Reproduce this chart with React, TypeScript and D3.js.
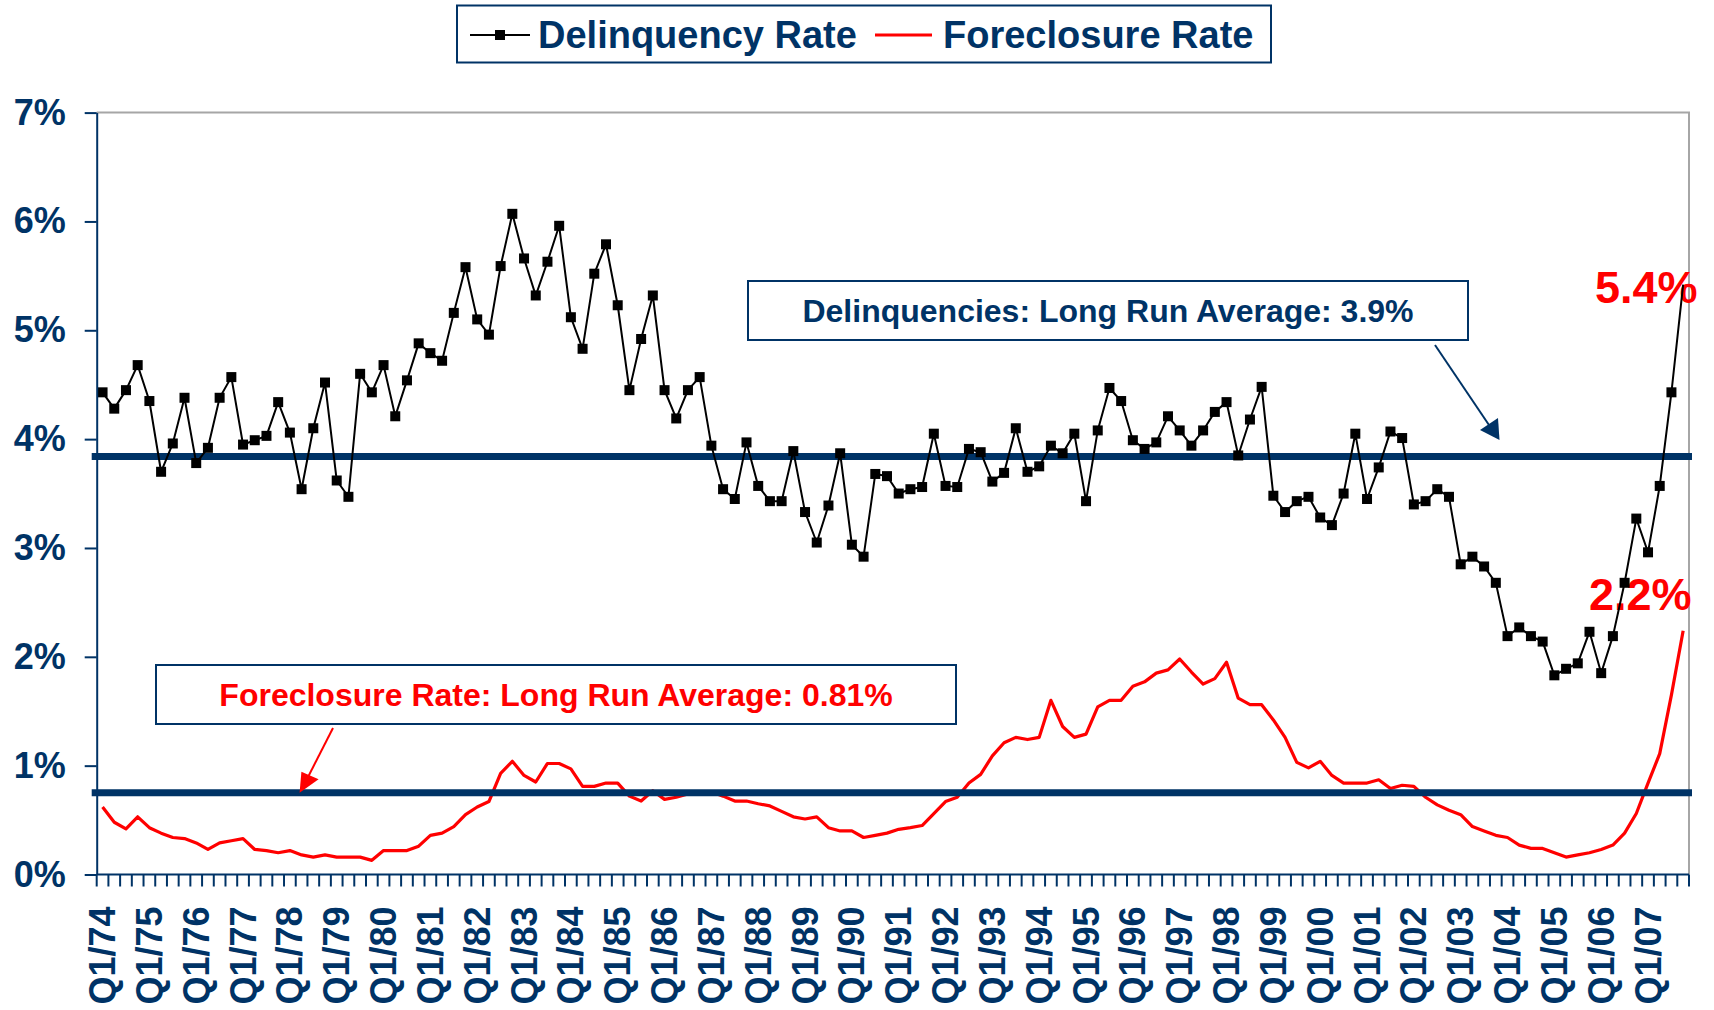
import React, { useEffect, useRef } from "react"
import * as d3 from "d3"

// quarterly series, Q1/74 .. Q4/07
const years = [
  "74", "75", "76", "77", "78", "79", "80", "81", "82", "83", "84", "85",
  "86", "87", "88", "89", "90", "91", "92", "93", "94", "95", "96", "97",
  "98", "99", "00", "01", "02", "03", "04", "05", "06", "07",
]
const quarterNames = ["Q1", "Q2", "Q3", "Q4"]
const quarters = years.flatMap((yr) => quarterNames.map((q) => `${q}/${yr}`))
const tickLabels = years.map((yr) => `Q1/${yr}`)
const yTicks = [0, 1, 2, 3, 4, 5, 6, 7]

const delinquency = [
  4.43, 4.28, 4.45, 4.68, 4.35, 3.7, 3.96, 4.38, 3.78, 3.92,
  4.38, 4.57, 3.95, 3.99, 4.03, 4.34, 4.06, 3.54, 4.1, 4.52,
  3.62, 3.47, 4.6, 4.43, 4.68, 4.21, 4.54, 4.88, 4.79, 4.72,
  5.16, 5.58, 5.1, 4.96, 5.59, 6.07, 5.66, 5.32, 5.63, 5.96,
  5.12, 4.83, 5.52, 5.79, 5.23, 4.45, 4.92, 5.32, 4.45, 4.19,
  4.45, 4.57, 3.94, 3.54, 3.45, 3.97, 3.57, 3.43, 3.43, 3.89,
  3.33, 3.05, 3.39, 3.87, 3.03, 2.92, 3.68, 3.66, 3.5, 3.54,
  3.56, 4.05, 3.57, 3.56, 3.91, 3.88, 3.61, 3.69, 4.1, 3.7,
  3.75, 3.94, 3.87, 4.05, 3.43, 4.08, 4.47, 4.35, 3.99, 3.91,
  3.97, 4.21, 4.08, 3.94, 4.08, 4.25, 4.34, 3.85, 4.18, 4.48,
  3.48, 3.33, 3.43, 3.47, 3.28, 3.21, 3.5, 4.05, 3.45, 3.74,
  4.07, 4.01, 3.4, 3.43, 3.54, 3.47, 2.85, 2.92, 2.83, 2.68,
  2.19, 2.27, 2.19, 2.14, 1.83, 1.89, 1.94, 2.23, 1.85, 2.19,
  2.68, 3.27, 2.96, 3.57, 4.43, 5.42,
]

const foreclosure = [
  0.62, 0.48, 0.42, 0.53, 0.43, 0.38, 0.34, 0.33, 0.29, 0.23,
  0.29, 0.31, 0.33, 0.23, 0.22, 0.2, 0.22, 0.18, 0.16, 0.18,
  0.16, 0.16, 0.16, 0.13, 0.22, 0.22, 0.22, 0.26, 0.36, 0.38,
  0.44, 0.55, 0.62, 0.67, 0.93, 1.04, 0.91, 0.85, 1.02, 1.02,
  0.97, 0.81, 0.81, 0.84, 0.84, 0.72, 0.675, 0.77, 0.69, 0.71,
  0.74, 0.76, 0.76, 0.72, 0.675, 0.675, 0.65, 0.63, 0.58, 0.53,
  0.51, 0.53, 0.43, 0.4, 0.4, 0.34, 0.36, 0.38, 0.415, 0.43,
  0.45, 0.56, 0.67, 0.71, 0.84, 0.92, 1.09, 1.21, 1.26, 1.24,
  1.26, 1.6, 1.36, 1.26, 1.29, 1.54, 1.6, 1.6, 1.73, 1.77,
  1.85, 1.88, 1.98, 1.86, 1.75, 1.8, 1.95, 1.62, 1.56, 1.56,
  1.42, 1.26, 1.03, 0.98, 1.04, 0.91, 0.84, 0.84, 0.84, 0.87,
  0.79, 0.82, 0.81, 0.71, 0.64, 0.59, 0.55, 0.44, 0.4, 0.36,
  0.34, 0.27, 0.24, 0.24, 0.2, 0.16, 0.18, 0.2, 0.23, 0.27,
  0.38, 0.56, 0.84, 1.11, 1.65, 2.24,
]

// average lines as drawn on the original
const delinquencyAvg = 3.84
const foreclosureAvg = 0.75

const NAVY = "#003366"
const RED = "#ff0000"
const FONT = "'Liberation Sans', Arial, Helvetica, sans-serif"

const WIDTH = 1714
const HEIGHT = 1010
const L = 96.7
const R = 1689
const T = 112.6
const B = 874.5

const Chart = () => {
  const ref = useRef(null)

  useEffect(() => {
    document.body.style.margin = "0"
    const svg = d3.select(ref.current)
    svg.selectAll("*").remove()

    const x = d3.scaleBand().domain(quarters).range([L, R])
    const cx = (q) => x(q) + x.bandwidth() / 2
    const y = d3.scaleLinear().domain([0, 7]).range([B, T])

    svg.append("rect").attr("width", WIDTH).attr("height", HEIGHT).attr("fill", "white")

    // plot frame (top / right)
    svg
      .append("path")
      .attr("d", `M${L},${T}H${R}V${B}`)
      .attr("fill", "none")
      .attr("stroke", "#a6a6a6")
      .attr("stroke-width", 2)

    const line = d3
      .line()
      .x((d, i) => cx(quarters[i]))
      .y((d) => y(d))

    // foreclosure
    svg
      .append("path")
      .datum(foreclosure)
      .attr("d", line)
      .attr("fill", "none")
      .attr("stroke", RED)
      .attr("stroke-width", 3.2)
      .attr("stroke-linejoin", "round")

    // long run averages
    svg
      .selectAll(".avg")
      .data([delinquencyAvg, foreclosureAvg])
      .join("line")
      .attr("class", "avg")
      .attr("x1", L - 5)
      .attr("x2", R + 3)
      .attr("y1", (d) => y(d))
      .attr("y2", (d) => y(d))
      .attr("stroke", NAVY)
      .attr("stroke-width", 7)

    // text boxes
    const boxes = [
      { x: 748, y: 281, w: 720, h: 59, text: "Delinquencies: Long Run Average: 3.9%", color: NAVY, base: 322 },
      { x: 156, y: 665, w: 800, h: 59, text: "Foreclosure Rate: Long Run Average: 0.81%", color: RED, base: 706 },
    ]
    boxes.forEach((b) => {
      svg
        .append("rect")
        .attr("x", b.x)
        .attr("y", b.y)
        .attr("width", b.w)
        .attr("height", b.h)
        .attr("fill", "white")
        .attr("stroke", NAVY)
        .attr("stroke-width", 2)
      svg
        .append("text")
        .attr("x", b.x + b.w / 2)
        .attr("y", b.base)
        .attr("text-anchor", "middle")
        .attr("fill", b.color)
        .style("font", `bold 32px ${FONT}`)
        .text(b.text)
    })

    // arrows
    svg.append("line").attr("x1", 1435).attr("y1", 345).attr("x2", 1491).attr("y2", 428)
      .attr("stroke", NAVY).attr("stroke-width", 2)
    svg.append("polygon").attr("points", "1480,430 1498,418 1499.5,440").attr("fill", NAVY)
    svg.append("line").attr("x1", 333).attr("y1", 728).attr("x2", 307).attr("y2", 779)
      .attr("stroke", RED).attr("stroke-width", 2)
    svg.append("polygon").attr("points", "299.6,792.7 301.4,771.7 318.6,779.3").attr("fill", RED)

    // end labels
    svg.append("text").attr("x", 1595).attr("y", 303).attr("fill", RED)
      .style("font", `bold 45px ${FONT}`).text("5.4%")
    svg.append("text").attr("x", 1589).attr("y", 610).attr("fill", RED)
      .style("font", `bold 45px ${FONT}`).text("2.2%")

    // delinquency
    svg
      .append("path")
      .datum(delinquency)
      .attr("d", line)
      .attr("fill", "none")
      .attr("stroke", "black")
      .attr("stroke-width", 2)
    svg
      .selectAll(".mk")
      .data(delinquency.slice(0, -1))
      .join("rect")
      .attr("class", "mk")
      .attr("x", (d, i) => cx(quarters[i]) - 5)
      .attr("y", (d) => y(d) - 5)
      .attr("width", 10)
      .attr("height", 10)
      .attr("fill", "black")

    // y axis
    const gy = svg
      .append("g")
      .attr("transform", `translate(${L},0)`)
      .call(
        d3
          .axisLeft(y)
          .tickValues(yTicks)
          .tickFormat((d) => `${d}%`)
          .tickSize(12)
          .tickSizeOuter(0)
          .tickPadding(19)
      )
    gy.select(".domain").attr("stroke", NAVY).attr("stroke-width", 2)
    gy.selectAll(".tick line").attr("stroke", NAVY).attr("stroke-width", 2)
    gy.selectAll(".tick text")
      .attr("fill", NAVY)
      .style("font", `bold 36px ${FONT}`)

    // x axis
    svg.append("line").attr("x1", L).attr("x2", R).attr("y1", B).attr("y2", B)
      .attr("stroke", NAVY).attr("stroke-width", 2)
    svg
      .selectAll(".xt")
      .data(d3.range(quarters.length + 1))
      .join("line")
      .attr("class", "xt")
      .attr("x1", (i) => L + i * x.step())
      .attr("x2", (i) => L + i * x.step())
      .attr("y1", B)
      .attr("y2", B + 12)
      .attr("stroke", NAVY)
      .attr("stroke-width", 2)
    svg
      .selectAll(".xl")
      .data(tickLabels)
      .join("text")
      .attr("class", "xl")
      .attr("transform", (d) => `translate(${cx(d)},${B + 32}) rotate(-90)`)
      .attr("text-anchor", "end")
      .attr("dy", "0.35em")
      .attr("fill", NAVY)
      .style("font", `bold 36px ${FONT}`)
      .text((d) => d)

    // legend
    const lg = svg.append("g")
    lg.append("rect").attr("x", 457).attr("y", 5.5).attr("width", 814).attr("height", 57)
      .attr("fill", "white").attr("stroke", NAVY).attr("stroke-width", 2)
    lg.append("line").attr("x1", 470).attr("x2", 530).attr("y1", 35).attr("y2", 35)
      .attr("stroke", "black").attr("stroke-width", 2)
    lg.append("rect").attr("x", 495).attr("y", 30).attr("width", 10).attr("height", 10).attr("fill", "black")
    lg.append("text").attr("x", 538).attr("y", 48).attr("fill", NAVY)
      .style("font", `bold 38px ${FONT}`).text("Delinquency Rate")
    lg.append("line").attr("x1", 875).attr("x2", 932).attr("y1", 35).attr("y2", 35)
      .attr("stroke", RED).attr("stroke-width", 3.2)
    lg.append("text").attr("x", 943).attr("y", 48).attr("fill", NAVY)
      .style("font", `bold 38px ${FONT}`).text("Foreclosure Rate")
  }, [])

  return <svg ref={ref} width={WIDTH} height={HEIGHT} style={{ display: "block" }}></svg>
}

export default function App() {
  return <Chart />
}
